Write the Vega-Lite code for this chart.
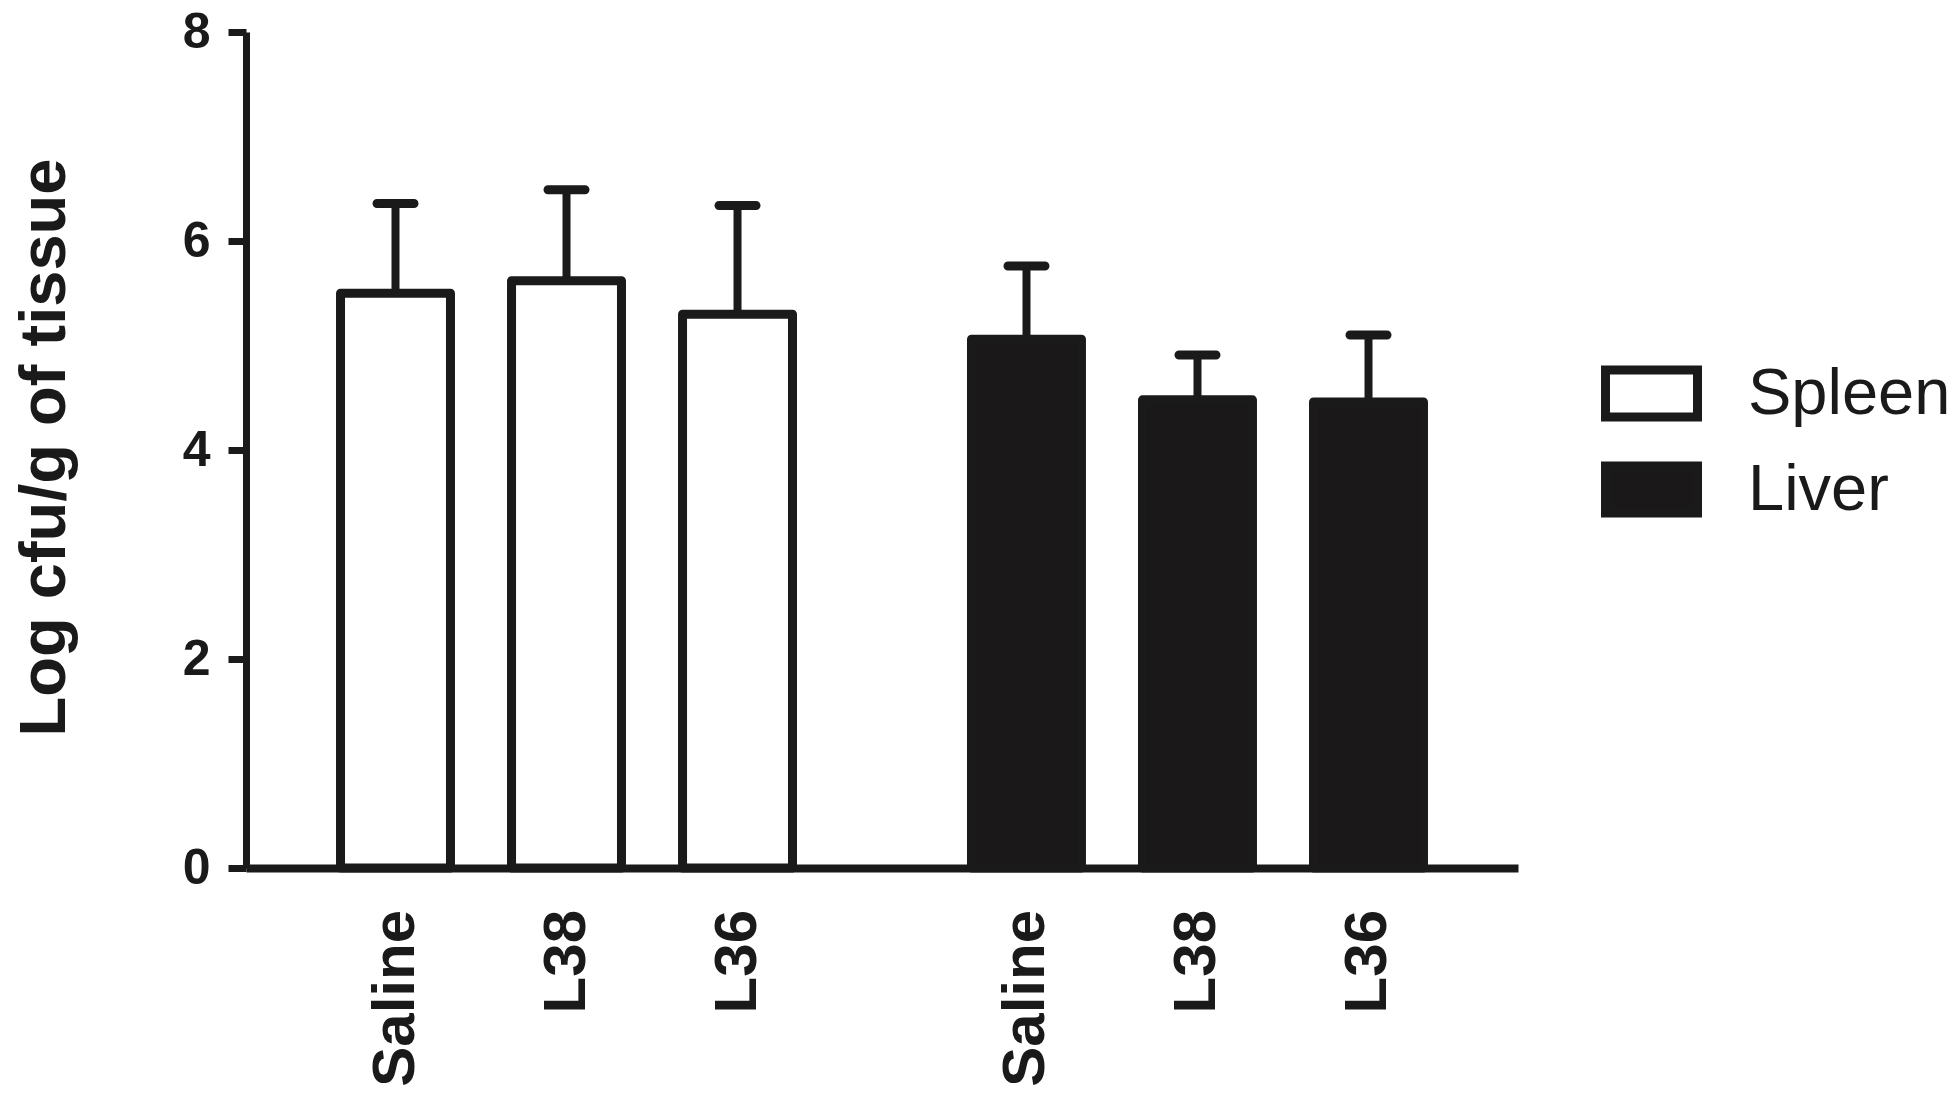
{
  "$schema": "https://vega.github.io/schema/vega-lite/v6.json",
  "width": 1272,
  "height": 836,
  "autosize": {"type": "none"},
  "padding": {"left": 246, "top": 32, "right": 441, "bottom": 238},
  "background": "white",
  "config": {"view": {"stroke": null}, "font": "Liberation Sans"},
  "data": {
    "values": [
      {"tissue": "Spleen", "treatment": "Saline", "mean": 5.50, "upper": 6.36},
      {"tissue": "Spleen", "treatment": "L38", "mean": 5.62, "upper": 6.49},
      {"tissue": "Spleen", "treatment": "L36", "mean": 5.30, "upper": 6.34},
      {"tissue": "Liver", "treatment": "Saline", "mean": 5.06, "upper": 5.76},
      {"tissue": "Liver", "treatment": "L38", "mean": 4.48, "upper": 4.91},
      {"tissue": "Liver", "treatment": "L36", "mean": 4.46, "upper": 5.10}
    ]
  },
  "encoding": {
    "x": {
      "field": "tissue", "type": "nominal", "sort": ["Spleen", "Liver"],
      "scale": {"paddingInner": 0.2837, "paddingOuter": 0.1498},
      "axis": {"labels": false, "ticks": false, "title": null, "domainWidth": 8, "domainColor": "#1a1a1a"}
    },
    "xOffset": {
      "field": "treatment", "type": "nominal", "sort": ["Saline", "L38", "L36"],
      "scale": {"paddingInner": 0.357, "paddingOuter": 0}
    },
    "y": {
      "field": "mean", "type": "quantitative", "title": "Log cfu/g of tissue",
      "scale": {"domain": [0, 8], "nice": false},
      "axis": {
        "values": [0, 2, 4, 6, 8], "grid": false,
        "tickSize": 18, "tickWidth": 7, "tickColor": "#1a1a1a",
        "domainWidth": 7, "domainColor": "#1a1a1a",
        "labelFontSize": 50, "labelFontWeight": "bold", "labelColor": "#1a1a1a", "labelPadding": 18,
        "titleFontSize": 65, "titleFontWeight": "bold", "titleColor": "#1a1a1a",
        "titleX": -202, "titleY": 415, "titleBaseline": "middle"
      }
    }
  },
  "layer": [
    {
      "mark": {"type": "rule", "strokeWidth": 8, "color": "#1a1a1a"},
      "encoding": {"y2": {"field": "upper"}}
    },
    {
      "mark": {"type": "bar", "stroke": "#1a1a1a", "strokeWidth": 9, "strokeJoin": "round"},
      "encoding": {
        "fill": {
          "field": "tissue", "type": "nominal",
          "scale": {"domain": ["Spleen", "Liver"], "range": ["white", "#1a1818"]},
          "legend": {
            "orient": "none", "legendX": 1355, "legendY": 311, "title": null,
            "symbolType": "M-1,-0.51H1V0.51H-1Z", "symbolSize": 8464,
            "symbolStrokeColor": "#1a1a1a", "symbolStrokeWidth": 9,
            "labelFontSize": 65, "labelFont": "Liberation Sans", "labelColor": "#1a1a1a",
            "labelOffset": 46, "labelLimit": 500, "rowPadding": 4, "padding": 0
          }
        }
      }
    },
    {
      "mark": {"type": "tick", "orient": "horizontal", "size": 46, "thickness": 9, "cornerRadius": 4.5, "color": "#1a1a1a", "opacity": 1},
      "encoding": {
        "y": {"field": "upper", "type": "quantitative", "title": "Log cfu/g of tissue", "scale": {"domain": [0, 8], "nice": false}}
      }
    },
    {
      "mark": {"type": "text", "angle": 270, "align": "right", "baseline": "middle", "dx": -42, "fontSize": 60, "fontWeight": "bold", "font": "Liberation Sans", "color": "#1a1a1a"},
      "encoding": {
        "y": {"datum": 0},
        "text": {"field": "treatment"}
      }
    }
  ]
}
